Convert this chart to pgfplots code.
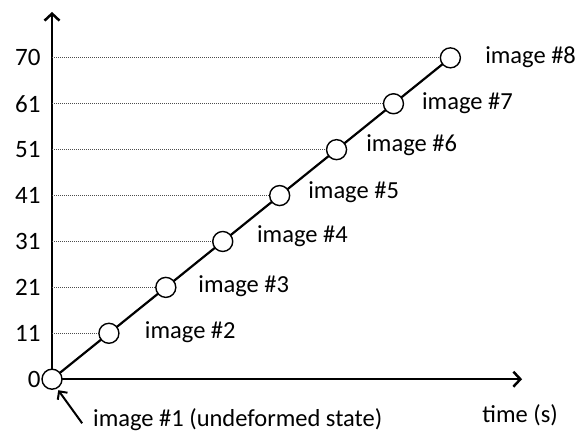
\documentclass[border=0pt]{standalone}
\usepackage{pgfplots}
\pgfplotsset{compat=1.18}
\usetikzlibrary{arrows.meta}
\usepackage{fontspec}
\setmainfont{Carlito}

% y positions are the image index; the labels carry the real values
\pgfplotstableread{
t  idx
0  0
1  1
2  2
3  3
4  4
5  5
6  6
7  7
}\images

\begin{document}
\begin{tikzpicture}[every node/.style={font=\fontsize{24.5}{28}\selectfont}]
\begin{axis}[
    x=56.9pt, y=45.9pt,
    xmin=0, xmax=8.26, ymin=0, ymax=8.0,
    axis lines=left,
    axis line style={line width=2.5pt, -{Straight Barb[length=7pt,width=15pt,line width=2.5pt]}},
    xtick=\empty,
    ytick={0,1,2,3,4,5,6,7},
    yticklabels={0,11,21,31,41,51,61,70},
    major tick length=0pt,
    yticklabel style={font=\fontsize{25}{28}\selectfont, xshift=-8pt},
    clip=false,
]
  \addplot[xcomb, black!70, densely dotted, line width=1pt, mark=none] table[x=t, y=idx] {\images};
  \addplot[black, line width=2.2pt, mark=*, mark size=10pt,
           mark options={fill=white, draw=black, line width=1.4pt}] table[x=t, y=idx] {\images};

  \node[anchor=west, inner sep=0pt] at (axis cs:1.63,1.02) {image \#2};
  \node[anchor=west, inner sep=0pt] at (axis cs:2.57,2.03) {image \#3};
  \node[anchor=west, inner sep=0pt] at (axis cs:3.60,3.11) {image \#4};
  \node[anchor=west, inner sep=0pt] at (axis cs:4.50,4.07) {image \#5};
  \node[anchor=west, inner sep=0pt] at (axis cs:5.52,5.10) {image \#6};
  \node[anchor=west, inner sep=0pt] at (axis cs:6.50,6.01) {image \#7};
  \node[anchor=west, inner sep=0pt] at (axis cs:7.61,7.02) {image \#8};
  \node[anchor=west, inner sep=0pt] at (axis cs:0.72,-0.89) {image \#1 (undeformed state)};
  \node[anchor=west, inner sep=0pt] at (axis cs:7.56,-0.78) {time (s)};
  \draw[line width=2pt, -{Straight Barb[length=6pt,width=12pt,line width=2pt]}]
      (axis cs:0.53,-0.96) -- (axis cs:0.11,-0.24);

  \coordinate (bl) at (axis cs:-0.914,-1.351);
  \coordinate (tr) at (axis cs:9.26,8.26);
\end{axis}
\pgfresetboundingbox
\path (bl) rectangle (tr);
\end{tikzpicture}
\end{document}
